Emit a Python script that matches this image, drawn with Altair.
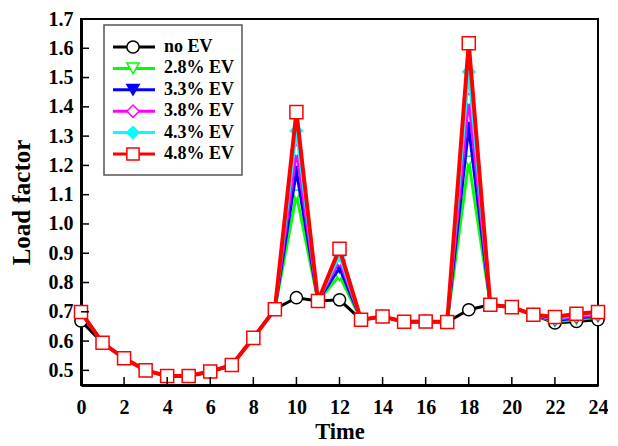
import altair as alt
import pandas as pd

hours = list(range(25))

series_names = ["no EV", "2.8% EV", "3.3% EV", "3.8% EV", "4.3% EV", "4.8% EV"]

no_ev = [0.669, 0.594, 0.541, 0.500, 0.481, 0.481, 0.496, 0.518, 0.611, 0.709,
         0.748, 0.737, 0.741, 0.673, 0.684, 0.666, 0.667, 0.665, 0.707, 0.724,
         0.716, 0.690, 0.662, 0.667, 0.673]
ev_28 = [0.699, 0.594, 0.541, 0.500, 0.481, 0.481, 0.496, 0.518, 0.611, 0.709,
         1.100, 0.737, 0.823, 0.673, 0.684, 0.666, 0.667, 0.665, 1.215, 0.724,
         0.716, 0.690, 0.666, 0.674, 0.681]
ev_33 = [0.699, 0.594, 0.541, 0.500, 0.481, 0.481, 0.496, 0.518, 0.611, 0.709,
         1.180, 0.737, 0.850, 0.673, 0.684, 0.666, 0.667, 0.665, 1.330, 0.724,
         0.716, 0.690, 0.670, 0.679, 0.686]
ev_38 = [0.699, 0.594, 0.541, 0.500, 0.481, 0.481, 0.496, 0.518, 0.611, 0.709,
         1.250, 0.737, 0.875, 0.673, 0.684, 0.666, 0.667, 0.665, 1.425, 0.724,
         0.716, 0.690, 0.674, 0.683, 0.690]
ev_43 = [0.699, 0.594, 0.541, 0.500, 0.481, 0.481, 0.496, 0.518, 0.611, 0.709,
         1.318, 0.737, 0.892, 0.673, 0.684, 0.666, 0.667, 0.665, 1.520, 0.724,
         0.716, 0.690, 0.678, 0.688, 0.695]
ev_48 = [0.699, 0.594, 0.541, 0.500, 0.481, 0.481, 0.496, 0.518, 0.611, 0.709,
         1.382, 0.737, 0.915, 0.673, 0.684, 0.666, 0.667, 0.665, 1.617, 0.724,
         0.716, 0.690, 0.682, 0.693, 0.699]

series_values = [no_ev, ev_28, ev_33, ev_38, ev_43, ev_48]

colors = ["#000000", "#00ff00", "#0000ff", "#ff00ff", "#00ffff", "#ff0000"]
shapes = ["circle", "triangle-down", "triangle-down", "diamond", "diamond", "square"]
fills = ["#ffffff", "#ffffff", "#0000ff", "#ffffff", "#00ffff", "#ffffff"]
sizes = [150, 120, 120, 130, 150, 170]
line_widths = [3, 3, 3, 3, 3, 4]

y_tick_values = [0.5, 0.6, 0.7, 0.8, 0.9, 1.0, 1.1, 1.2, 1.3, 1.4, 1.5, 1.6, 1.7]
x_tick_values = [0, 2, 4, 6, 8, 10, 12, 14, 16, 18, 20, 22, 24]

FONT = "Liberation Serif"
W, H = 517, 366

x_scale = alt.Scale(domain=[0, 24], nice=False, zero=False)
y_scale = alt.Scale(domain=[0.45, 1.7], nice=False, zero=False)

x_axis = alt.Axis(values=x_tick_values, ticks=False, grid=False, domain=True,
                  domainColor="black", domainWidth=3,
                  labelFont=FONT, labelFontSize=20, labelFontWeight="bold", labelColor="black",
                  labelPadding=12, labelFlush=False,
                  title="Time", titleFont=FONT, titleFontSize=22.5, titleFontWeight="bold",
                  titleColor="black", titlePadding=3)
y_axis = alt.Axis(values=y_tick_values, format=".1f", ticks=False, grid=False, domain=True,
                  domainColor="black", domainWidth=3,
                  labelFont=FONT, labelFontSize=20, labelFontWeight="bold", labelColor="black",
                  labelPadding=8, labelFlush=False,
                  title="Load factor", titleFont=FONT, titleFontSize=25, titleFontWeight="bold",
                  titleColor="black", titlePadding=14)

X = alt.X("hour:Q", scale=x_scale, axis=x_axis)
Y = alt.Y("value:Q", scale=y_scale, axis=y_axis)

layers = []
for i, (name, vals) in enumerate(zip(series_names, series_values)):
    df = pd.DataFrame({"hour": hours, "value": vals, "series": name})
    base = alt.Chart(df)
    line = base.mark_line(color=colors[i], strokeWidth=line_widths[i]).encode(x=X, y=Y)
    pts = base.mark_point(shape=shapes[i], filled=True, fill=fills[i], stroke=colors[i],
                          strokeWidth=1.5, size=sizes[i], opacity=1).encode(x=X, y=Y)
    layers += [line, pts]

ytick_df = pd.DataFrame({"value": y_tick_values})
ytick = alt.Chart(ytick_df).mark_rule(color="black", strokeWidth=1.5).encode(
    y=Y, x=alt.value(0), x2=alt.value(8))
xtick_df = pd.DataFrame({"hour": x_tick_values[1:-1]})
xtick = alt.Chart(xtick_df).mark_rule(color="black", strokeWidth=1.5).encode(
    x=X, y=alt.value(H), y2=alt.value(H - 8))

main = alt.layer(*layers, ytick, xtick)

# legend
leg_df = pd.DataFrame({"label": series_names, "row": list(range(len(series_names)))})
row_y = alt.Y("row:Q", scale=alt.Scale(domain=[0, 5], range=[28, 135]), axis=None)
box = alt.Chart(pd.DataFrame({"a": [0]})).mark_rect(
    fill="white", stroke="#555555", strokeWidth=1.5).encode(
    x=alt.value(23), x2=alt.value(161), y=alt.value(6), y2=alt.value(156))
leg_rule = alt.Chart(leg_df).mark_rule(strokeWidth=3).encode(
    x=alt.value(32), x2=alt.value(74), y=row_y,
    color=alt.Color("label:N", scale=alt.Scale(domain=series_names, range=colors), legend=None))
leg_pts = alt.Chart(leg_df).mark_point(filled=True, strokeWidth=1.5, size=150, opacity=1).encode(
    x=alt.value(52), y=row_y,
    stroke=alt.Stroke("label:N", scale=alt.Scale(domain=series_names, range=colors), legend=None),
    fill=alt.Fill("label:N", scale=alt.Scale(domain=series_names, range=fills), legend=None),
    shape=alt.Shape("label:N", scale=alt.Scale(domain=series_names, range=shapes), legend=None))
leg_text = alt.Chart(leg_df).mark_text(align="left", baseline="middle", font=FONT,
                                        fontSize=18, fontWeight="bold", color="black").encode(
    x=alt.value(83), y=row_y, text="label:N")
legend = alt.layer(box, leg_rule, leg_pts, leg_text)

chart = alt.layer(main, legend).resolve_scale(
    x="independent", y="independent", color="independent", stroke="independent",
    fill="independent", shape="independent"
).properties(
    width=W, height=H,
    background="white",
    autosize=alt.AutoSizeParams(type="none"),
    padding={"left": 73, "top": 11, "right": 10, "bottom": 61},
).configure_view(stroke="black", strokeWidth=2)

chart.save("out.html", embed_options={"renderer": "svg", "actions": False})
